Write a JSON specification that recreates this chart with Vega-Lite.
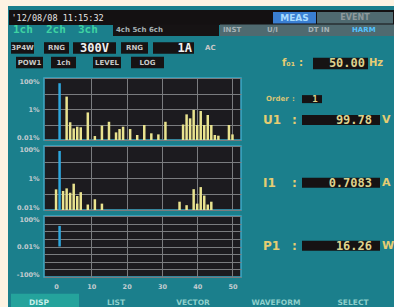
{
  "$schema": "https://vega.github.io/schema/vega-lite/v6.json",
  "background": "#1b7f8c",
  "padding": 0,
  "spacing": 0,
  "config": {"view": {"stroke": null}, "font": "DejaVu Sans"},
  "datasets": {
    "u": [
      {"order": 1, "pct": 46, "kind": "fund"},
      {"order": 3, "pct": 6.3, "kind": "harm"},
      {"order": 4, "pct": 0.14, "kind": "harm"},
      {"order": 5, "pct": 0.056, "kind": "harm"},
      {"order": 6, "pct": 0.072, "kind": "harm"},
      {"order": 7, "pct": 0.066, "kind": "harm"},
      {"order": 9, "pct": 0.6, "kind": "harm"},
      {"order": 11, "pct": 0.018, "kind": "harm"},
      {"order": 13, "pct": 0.084, "kind": "harm"},
      {"order": 15, "pct": 0.15, "kind": "harm"},
      {"order": 17, "pct": 0.031, "kind": "harm"},
      {"order": 18, "pct": 0.051, "kind": "harm"},
      {"order": 19, "pct": 0.072, "kind": "harm"},
      {"order": 21, "pct": 0.051, "kind": "harm"},
      {"order": 23, "pct": 0.021, "kind": "harm"},
      {"order": 25, "pct": 0.093, "kind": "harm"},
      {"order": 27, "pct": 0.027, "kind": "harm"},
      {"order": 29, "pct": 0.023, "kind": "harm"},
      {"order": 31, "pct": 0.15, "kind": "harm"},
      {"order": 36, "pct": 0.1, "kind": "harm"},
      {"order": 37, "pct": 0.45, "kind": "harm"},
      {"order": 38, "pct": 0.25, "kind": "harm"},
      {"order": 39, "pct": 0.87, "kind": "harm"},
      {"order": 40, "pct": 0.093, "kind": "harm"},
      {"order": 41, "pct": 0.74, "kind": "harm"},
      {"order": 42, "pct": 0.093, "kind": "harm"},
      {"order": 43, "pct": 0.41, "kind": "harm"},
      {"order": 44, "pct": 0.093, "kind": "harm"},
      {"order": 45, "pct": 0.021, "kind": "harm"},
      {"order": 46, "pct": 0.019, "kind": "harm"},
      {"order": 49, "pct": 0.093, "kind": "harm"},
      {"order": 50, "pct": 0.023, "kind": "harm"}
    ],
    "i": [
      {"order": 0, "pct": 0.195, "kind": "harm"},
      {"order": 1, "pct": 49, "kind": "fund"},
      {"order": 2, "pct": 0.155, "kind": "harm"},
      {"order": 3, "pct": 0.225, "kind": "harm"},
      {"order": 4, "pct": 0.12, "kind": "harm"},
      {"order": 5, "pct": 0.44, "kind": "harm"},
      {"order": 6, "pct": 0.075, "kind": "harm"},
      {"order": 7, "pct": 0.13, "kind": "harm"},
      {"order": 9, "pct": 0.022, "kind": "harm"},
      {"order": 11, "pct": 0.047, "kind": "harm"},
      {"order": 13, "pct": 0.025, "kind": "harm"},
      {"order": 35, "pct": 0.033, "kind": "harm"},
      {"order": 37, "pct": 0.02, "kind": "harm"},
      {"order": 39, "pct": 0.2, "kind": "harm"},
      {"order": 40, "pct": 0.025, "kind": "harm"},
      {"order": 41, "pct": 0.27, "kind": "harm"},
      {"order": 42, "pct": 0.08, "kind": "harm"},
      {"order": 43, "pct": 0.022, "kind": "harm"},
      {"order": 44, "pct": 0.033, "kind": "harm"}
    ],
    "p": [
      {"order": 1, "lvl": 2.7, "kind": "fund"}
    ],
    "hb": [
      {"c": 26.4, "c2": 30.7, "r": 0.8, "k": "active"},
      {"c": 30.8, "c2": 38.4, "r": 0.8, "k": "inactive"},
      {"c": 10.4, "c2": 21.0, "r": 2.25, "k": "panel"},
      {"c": 21.1, "c2": 38.5, "r": 2.25, "k": "inactive"},
      {"c": 0.2, "c2": 2.5, "r": 4.3, "k": "panel"},
      {"c": 3.5, "c2": 6.0, "r": 4.3, "k": "panel"},
      {"c": 6.4, "c2": 10.7, "r": 4.3, "k": "panel"},
      {"c": 11.2, "c2": 13.9, "r": 4.3, "k": "panel"},
      {"c": 14.4, "c2": 18.5, "r": 4.3, "k": "panel"},
      {"c": 0.7, "c2": 3.4, "r": 6.0, "k": "panel"},
      {"c": 4.2, "c2": 6.7, "r": 6.0, "k": "panel"},
      {"c": 8.4, "c2": 11.2, "r": 6.0, "k": "panel"},
      {"c": 12.2, "c2": 15.5, "r": 6.0, "k": "panel"},
      {"c": 30.4, "c2": 35.9, "r": 6.1, "k": "panel"}
    ],
    "hbar": [
      {"c": 0, "c2": 38.6, "r": 0.75}
    ],
    "ht": [
      {"t": "'12/08/08 11:15:32", "c": 0.25, "r": 0.8, "g": "date"},
      {"t": "MEAS", "c": 28.55, "r": 0.8, "g": "meas"},
      {"t": "EVENT", "c": 34.6, "r": 0.8, "g": "event"},
      {"t": "1ch", "c": 0.4, "r": 2.25, "g": "chan"},
      {"t": "2ch", "c": 3.7, "r": 2.25, "g": "chan"},
      {"t": "3ch", "c": 6.9, "r": 2.25, "g": "chan"},
      {"t": "4ch  5ch  6ch", "c": 10.7, "r": 2.25, "g": "tab"},
      {"t": "INST", "c": 21.4, "r": 2.25, "g": "tab"},
      {"t": "U/I", "c": 25.8, "r": 2.25, "g": "tab"},
      {"t": "DT IN", "c": 29.9, "r": 2.25, "g": "tab"},
      {"t": "HARM", "c": 34.3, "r": 2.25, "g": "harm"},
      {"t": "3P4W", "c": 1.35, "r": 4.3, "g": "small"},
      {"t": "RNG", "c": 4.75, "r": 4.3, "g": "small"},
      {"t": "300V", "c": 8.55, "r": 4.3, "g": "big"},
      {"t": "RNG", "c": 12.55, "r": 4.3, "g": "small"},
      {"t": "1A", "c": 18.3, "r": 4.3, "g": "bigr"},
      {"t": "AC", "c": 19.6, "r": 4.3, "g": "ac"},
      {"t": "POW1", "c": 2.05, "r": 6.0, "g": "small"},
      {"t": "1ch", "c": 5.45, "r": 6.0, "g": "small"},
      {"t": "LEVEL", "c": 9.8, "r": 6.0, "g": "small"},
      {"t": "LOG", "c": 13.85, "r": 6.0, "g": "small"},
      {"t": "f₀₁", "c": 27.3, "r": 6.1, "g": "yel"},
      {"t": ":", "c": 29.0, "r": 6.1, "g": "yel"},
      {"t": "50.00", "c": 35.6, "r": 6.1, "g": "yelv"},
      {"t": "Hz", "c": 36.0, "r": 6.1, "g": "yel"}
    ],
    "rb": [
      {"c": 6.0, "c2": 8.0, "ln": 0, "k": "ord"},
      {"c": 6.0, "c2": 13.8, "ln": 1, "k": "v"},
      {"c": 6.0, "c2": 13.8, "ln": 4, "k": "v"},
      {"c": 6.0, "c2": 13.8, "ln": 7, "k": "v"}
    ],
    "rt": [
      {"t": "Order", "c": 2.4, "ln": 0, "g": "ord"},
      {"t": ":", "c": 5.0, "ln": 0, "g": "ord"},
      {"t": "1", "c": 7.3, "ln": 0, "g": "ordv"},
      {"t": "U1", "c": 2.1, "ln": 1, "g": "lab"},
      {"t": ":", "c": 5.0, "ln": 1, "g": "lab"},
      {"t": "99.78", "c": 13.0, "ln": 1, "g": "val"},
      {"t": "V", "c": 14.0, "ln": 1, "g": "unit"},
      {"t": "I1", "c": 2.1, "ln": 4, "g": "lab"},
      {"t": ":", "c": 5.0, "ln": 4, "g": "lab"},
      {"t": "0.7083", "c": 13.0, "ln": 4, "g": "val"},
      {"t": "A", "c": 14.0, "ln": 4, "g": "unit"},
      {"t": "P1", "c": 2.1, "ln": 7, "g": "lab"},
      {"t": ":", "c": 5.0, "ln": 7, "g": "lab"},
      {"t": "16.26", "c": 13.0, "ln": 7, "g": "val"},
      {"t": "W", "c": 14.0, "ln": 7, "g": "unit"}
    ],
    "fb": [
      {"c": 0.2, "c2": 7.0, "r": 1.2}
    ],
    "ft": [
      {"t": "DISP", "c": 3.0, "r": 1.2, "g": "on"},
      {"t": "LIST", "c": 10.7, "r": 1.2, "g": "off"},
      {"t": "VECTOR", "c": 18.4, "r": 1.2, "g": "off"},
      {"t": "WAVEFORM", "c": 26.7, "r": 1.2, "g": "off"},
      {"t": "SELECT", "c": 34.4, "r": 1.2, "g": "off"}
    ],
    "one": [{"a": 0}]
  },
  "vconcat": [
    {
      "width": 394, "height": 6,
      "view": {"fill": "#fdf3e2", "stroke": null},
      "data": {"name": "one"},
      "mark": {"type": "point", "opacity": 0},
      "encoding": {}
    },
    {
      "spacing": 0,
      "resolve": {"scale": {"x": "independent", "y": "independent"}},
      "hconcat": [
        {
          "width": 8, "height": 301,
          "view": {"fill": "#fdf3e2", "stroke": null},
          "data": {"name": "one"},
          "mark": {"type": "point", "opacity": 0},
          "encoding": {}
        },
        {
          "spacing": 0,
          "resolve": {"scale": {"x": "independent", "y": "independent"}},
          "vconcat": [
            {
              "width": 351, "height": 71,
              "view": {"fill": null, "stroke": null},
              "encoding": {
                "x": {"field": "c", "type": "quantitative", "scale": {"domain": [3.5, 38.6], "nice": false, "zero": false}, "axis": null},
                "y": {"field": "r", "type": "quantitative", "scale": {"domain": [0, 7.1], "nice": false, "zero": false, "reverse": true}, "axis": null}
              },
              "layer": [
                {"data": {"name": "hbar"}, "mark": {"type": "bar", "size": 15, "color": "#141112"}, "encoding": {"x2": {"field": "c2"}}},
                {"data": {"name": "hb"}, "transform": [{"filter": "datum.k == 'panel'"}], "mark": {"type": "bar", "size": 11.5, "color": "#161314"}, "encoding": {"x2": {"field": "c2"}}},
                {"data": {"name": "hb"}, "transform": [{"filter": "datum.k == 'active'"}], "mark": {"type": "bar", "size": 11.5, "color": "#3a7fd2"}, "encoding": {"x2": {"field": "c2"}}},
                {"data": {"name": "hb"}, "transform": [{"filter": "datum.k == 'inactive'"}], "mark": {"type": "bar", "size": 11.5, "color": "#4f6a70"}, "encoding": {"x2": {"field": "c2"}}},
                {"data": {"name": "ht"}, "transform": [{"filter": "datum.g == 'date'"}], "mark": {"type": "text", "align": "left", "baseline": "middle", "font": "DejaVu Sans Mono", "fontSize": 8.5, "color": "#e6e6e6"}, "encoding": {"text": {"field": "t"}}},
                {"data": {"name": "ht"}, "transform": [{"filter": "datum.g == 'meas'"}], "mark": {"type": "text", "align": "center", "baseline": "middle", "fontSize": 9, "fontWeight": "bold", "color": "#a9dcff"}, "encoding": {"text": {"field": "t"}}},
                {"data": {"name": "ht"}, "transform": [{"filter": "datum.g == 'event'"}], "mark": {"type": "text", "align": "center", "baseline": "middle", "fontSize": 8, "fontWeight": "bold", "color": "#8e999c"}, "encoding": {"text": {"field": "t"}}},
                {"data": {"name": "ht"}, "transform": [{"filter": "datum.g == 'chan'"}], "mark": {"type": "text", "align": "left", "baseline": "middle", "font": "DejaVu Sans Mono", "fontSize": 11, "fontWeight": "bold", "color": "#3fd3a2"}, "encoding": {"text": {"field": "t"}}},
                {"data": {"name": "ht"}, "transform": [{"filter": "datum.g == 'tab'"}], "mark": {"type": "text", "align": "left", "baseline": "middle", "fontSize": 7, "fontWeight": "bold", "color": "#a7b2b5"}, "encoding": {"text": {"field": "t"}}},
                {"data": {"name": "ht"}, "transform": [{"filter": "datum.g == 'harm'"}], "mark": {"type": "text", "align": "left", "baseline": "middle", "fontSize": 7, "fontWeight": "bold", "color": "#52c2ff"}, "encoding": {"text": {"field": "t"}}},
                {"data": {"name": "ht"}, "transform": [{"filter": "datum.g == 'small'"}], "mark": {"type": "text", "align": "center", "baseline": "middle", "fontSize": 7, "fontWeight": "bold", "color": "#c8c8c8"}, "encoding": {"text": {"field": "t"}}},
                {"data": {"name": "ht"}, "transform": [{"filter": "datum.g == 'ac'"}], "mark": {"type": "text", "align": "left", "baseline": "middle", "fontSize": 7, "fontWeight": "bold", "color": "#c8c8c8"}, "encoding": {"text": {"field": "t"}}},
                {"data": {"name": "ht"}, "transform": [{"filter": "datum.g == 'big'"}], "mark": {"type": "text", "align": "center", "baseline": "middle", "font": "DejaVu Sans Mono", "fontSize": 12, "fontWeight": "bold", "color": "#f0f0f0"}, "encoding": {"text": {"field": "t"}}},
                {"data": {"name": "ht"}, "transform": [{"filter": "datum.g == 'bigr'"}], "mark": {"type": "text", "align": "right", "baseline": "middle", "font": "DejaVu Sans Mono", "fontSize": 12, "fontWeight": "bold", "color": "#f0f0f0"}, "encoding": {"text": {"field": "t"}}},
                {"data": {"name": "ht"}, "transform": [{"filter": "datum.g == 'yel'"}], "mark": {"type": "text", "align": "left", "baseline": "middle", "fontSize": 10, "fontWeight": "bold", "color": "#e6cd72"}, "encoding": {"text": {"field": "t"}}},
                {"data": {"name": "ht"}, "transform": [{"filter": "datum.g == 'yelv'"}], "mark": {"type": "text", "align": "right", "baseline": "middle", "font": "DejaVu Sans Mono", "fontSize": 12, "fontWeight": "bold", "color": "#ddd28e"}, "encoding": {"text": {"field": "t"}}}
              ]
            },
            {
              "spacing": 0,
              "resolve": {"scale": {"x": "independent", "y": "independent"}},
              "hconcat": [
                {
                  "spacing": 3,
                  "vconcat": [
                    {
                      "width": 197, "height": 62,
                      "view": {"fill": "#1c1b1f", "stroke": "#3fa9c6", "strokeWidth": 1.5},
                      "data": {"name": "u"},
                      "encoding": {
                        "x": {"field": "order", "type": "quantitative", "scale": {"domain": [-2, 51], "nice": false, "zero": false}, "axis": {"title": null, "labels": false, "ticks": false, "domain": false, "values": [10, 20, 30, 40, 50], "gridColor": "#7a7c7f", "gridWidth": 1}},
                        "y": {"field": "pct", "type": "quantitative", "scale": {"type": "log", "domain": [0.01, 100], "nice": false}, "axis": {"title": null, "values": [0.01, 0.1, 1, 10, 100], "labelExpr": "datum.value == 100 ? '100%' : datum.value == 1 ? '1%' : datum.value == 0.01 ? '0.01%' : ''", "labelFlush": true, "ticks": false, "domain": false, "labelPadding": 5, "minExtent": 35, "maxExtent": 35, "labelFontSize": 6.5, "labelFontWeight": "bold", "labelColor": "#c3ccd0", "gridColor": "#7a7c7f", "gridWidth": 1}},
                        "y2": {"datum": 0.01}
                      },
                      "layer": [
                        {"transform": [{"filter": "datum.kind == 'harm'"}], "mark": {"type": "bar", "size": 2.5, "color": "#e9e38f"}},
                        {"transform": [{"filter": "datum.kind == 'fund'"}], "mark": {"type": "bar", "size": 2.5, "color": "#2ea7dd"}}
                      ]
                    },
                    {
                      "width": 197, "height": 64,
                      "view": {"fill": "#1c1b1f", "stroke": "#3fa9c6", "strokeWidth": 1.5},
                      "data": {"name": "i"},
                      "encoding": {
                        "x": {"field": "order", "type": "quantitative", "scale": {"domain": [-2, 51], "nice": false, "zero": false}, "axis": {"title": null, "labels": false, "ticks": false, "domain": false, "values": [10, 20, 30, 40, 50], "gridColor": "#7a7c7f", "gridWidth": 1}},
                        "y": {"field": "pct", "type": "quantitative", "scale": {"type": "log", "domain": [0.01, 100], "nice": false}, "axis": {"title": null, "values": [0.01, 0.1, 1, 10, 100], "labelExpr": "datum.value == 100 ? '100%' : datum.value == 1 ? '1%' : datum.value == 0.01 ? '0.01%' : ''", "labelFlush": true, "ticks": false, "domain": false, "labelPadding": 5, "minExtent": 35, "maxExtent": 35, "labelFontSize": 6.5, "labelFontWeight": "bold", "labelColor": "#c3ccd0", "gridColor": "#7a7c7f", "gridWidth": 1}},
                        "y2": {"datum": 0.01}
                      },
                      "layer": [
                        {"transform": [{"filter": "datum.kind == 'harm'"}], "mark": {"type": "bar", "size": 2.5, "color": "#e9e38f"}},
                        {"transform": [{"filter": "datum.kind == 'fund'"}], "mark": {"type": "bar", "size": 2.5, "color": "#2ea7dd"}}
                      ]
                    },
                    {
                      "width": 197, "height": 61,
                      "view": {"fill": "#1c1b1f", "stroke": "#3fa9c6", "strokeWidth": 1.5},
                      "data": {"name": "p"},
                      "mark": {"type": "bar", "size": 2.5, "color": "#2ea7dd"},
                      "encoding": {
                        "x": {"field": "order", "type": "quantitative", "scale": {"domain": [-2, 51], "nice": false, "zero": false}, "axis": {"title": null, "ticks": false, "domain": false, "values": [0, 10, 20, 30, 40, 50], "labelPadding": 6, "labelFontSize": 6.5, "labelFontWeight": "bold", "labelColor": "#c3ccd0", "gridColor": "#7a7c7f", "gridWidth": 1, "gridOpacity": {"condition": {"test": "datum.value == 0", "value": 0}, "value": 1}}},
                        "y": {"field": "lvl", "type": "quantitative", "scale": {"domain": [-4, 4], "nice": false, "zero": false}, "axis": {"title": null, "values": [-4, -3, -2, -1, 0, 1, 2, 3, 4], "labelExpr": "datum.value == 4 ? '100%' : datum.value == 0 ? '0.01%' : datum.value == -4 ? '-100%' : ''", "labelFlush": true, "ticks": false, "domain": false, "labelPadding": 5, "minExtent": 35, "maxExtent": 35, "labelFontSize": 6.5, "labelFontWeight": "bold", "labelColor": "#c3ccd0", "gridColor": "#7a7c7f", "gridWidth": 1}},
                        "y2": {"datum": 0}
                      }
                    }
                  ]
                },
                {
                  "width": 154, "height": 207,
                  "view": {"fill": null, "stroke": null},
                  "encoding": {
                    "x": {"field": "c", "type": "quantitative", "scale": {"domain": [0, 15.4], "nice": false, "zero": false}, "axis": null},
                    "y": {"field": "ln", "type": "quantitative", "scale": {"domain": [-0.77, 8.64], "nice": false, "zero": false, "reverse": true}, "axis": null}
                  },
                  "layer": [
                    {"data": {"name": "rb"}, "transform": [{"filter": "datum.k == 'ord'"}], "mark": {"type": "bar", "size": 8, "color": "#161213"}, "encoding": {"x2": {"field": "c2"}}},
                    {"data": {"name": "rb"}, "transform": [{"filter": "datum.k == 'v'"}], "mark": {"type": "bar", "size": 10, "color": "#161213"}, "encoding": {"x2": {"field": "c2"}}},
                    {"data": {"name": "rt"}, "transform": [{"filter": "datum.g == 'ord'"}], "mark": {"type": "text", "align": "left", "baseline": "middle", "fontSize": 7, "fontWeight": "bold", "color": "#d9c476"}, "encoding": {"text": {"field": "t"}}},
                    {"data": {"name": "rt"}, "transform": [{"filter": "datum.g == 'ordv'"}], "mark": {"type": "text", "align": "center", "baseline": "middle", "font": "DejaVu Sans Mono", "fontSize": 9, "fontWeight": "bold", "color": "#ddd28e"}, "encoding": {"text": {"field": "t"}}},
                    {"data": {"name": "rt"}, "transform": [{"filter": "datum.g == 'lab'"}], "mark": {"type": "text", "align": "left", "baseline": "middle", "fontSize": 12, "fontWeight": "bold", "color": "#e6cd72"}, "encoding": {"text": {"field": "t"}}},
                    {"data": {"name": "rt"}, "transform": [{"filter": "datum.g == 'unit'"}], "mark": {"type": "text", "align": "left", "baseline": "middle", "fontSize": 11, "fontWeight": "bold", "color": "#e6cd72"}, "encoding": {"text": {"field": "t"}}},
                    {"data": {"name": "rt"}, "transform": [{"filter": "datum.g == 'val'"}], "mark": {"type": "text", "align": "right", "baseline": "middle", "font": "DejaVu Sans Mono", "fontSize": 12, "fontWeight": "bold", "color": "#ddd28e"}, "encoding": {"text": {"field": "t"}}}
                  ]
                }
              ]
            },
            {
              "width": 351, "height": 23,
              "view": {"fill": null, "stroke": null},
              "encoding": {
                "x": {"field": "c", "type": "quantitative", "scale": {"domain": [3.5, 38.6], "nice": false, "zero": false}, "axis": null},
                "y": {"field": "r", "type": "quantitative", "scale": {"domain": [0, 2.3], "nice": false, "zero": false, "reverse": true}, "axis": null}
              },
              "layer": [
                {"data": {"name": "fb"}, "mark": {"type": "bar", "size": 18, "color": "#24a39c"}, "encoding": {"x2": {"field": "c2"}}},
                {"data": {"name": "ft"}, "transform": [{"filter": "datum.g == 'on'"}], "mark": {"type": "text", "align": "center", "baseline": "middle", "fontSize": 7.5, "fontWeight": "bold", "color": "#c9efe9"}, "encoding": {"text": {"field": "t"}}},
                {"data": {"name": "ft"}, "transform": [{"filter": "datum.g == 'off'"}], "mark": {"type": "text", "align": "center", "baseline": "middle", "fontSize": 7.5, "fontWeight": "bold", "color": "#8fcfcb"}, "encoding": {"text": {"field": "t"}}}
              ]
            }
          ]
        }
      ]
    }
  ]
}
